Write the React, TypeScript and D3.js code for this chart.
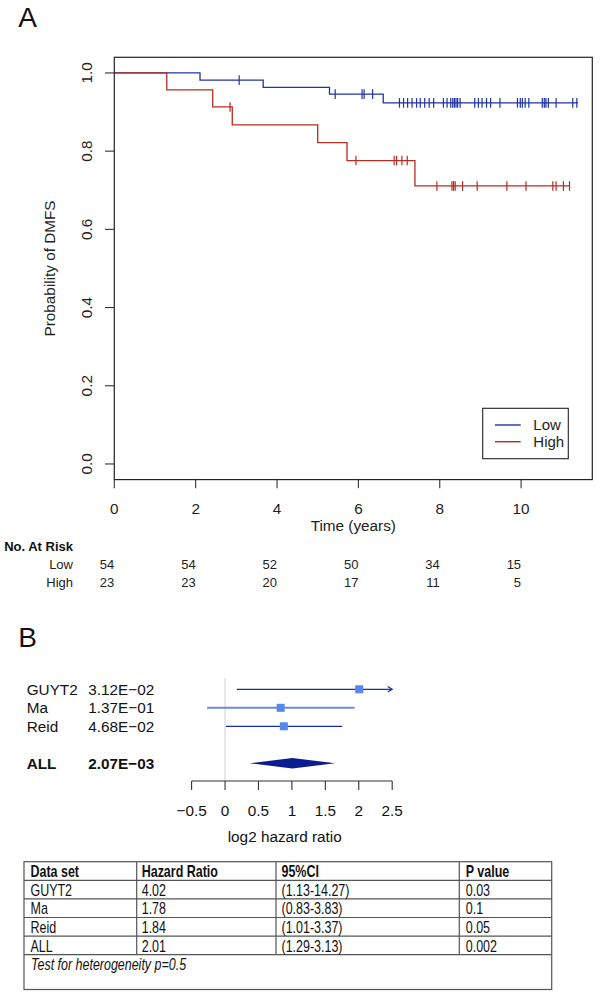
import React from 'react';
import * as d3 from 'd3';

// ---------- Panel A data ----------
const timeTicks = [0, 2, 4, 6, 8, 10];
const survTicks = [0, 0.2, 0.4, 0.6, 0.8, 1.0];
const groupNames = ['Low', 'High'];

const lowStepTimes = [0, 2.107, 3.66, 5.29, 6.61];
const lowStepSurv = [1, 0.9815, 0.963, 0.9457, 0.9235];
const lowEndTime = 11.4;
const lowCensorTimes = [
  3.07, 5.43, 6.09, 6.14, 6.35,
  7.01, 7.11, 7.21, 7.32, 7.43, 7.52, 7.63, 7.74, 7.85,
  8.09, 8.18, 8.27, 8.32, 8.36, 8.40, 8.44, 8.50,
  8.86, 8.95, 9.04, 9.15, 9.25, 9.48,
  9.91, 9.98, 10.03, 10.10, 10.19,
  10.52, 10.57, 10.61, 10.67, 10.86,
  11.27, 11.37,
];

const highStepTimes = [0, 1.29, 2.42, 2.9, 5.0, 5.72, 7.39];
const highStepSurv = [1, 0.9565, 0.913, 0.8674, 0.8217, 0.776, 0.711];
const highEndTime = 11.19;
const highCensorTimes = [
  2.845, 5.94, 6.88, 6.94, 7.07, 7.2,
  7.93, 8.3, 8.34, 8.38, 8.56, 8.92, 9.65, 10.12, 10.78, 10.86, 11.04, 11.19,
];

const riskLow = [54, 54, 52, 50, 34, 15];
const riskHigh = [23, 23, 20, 17, 11, 5];

// ---------- Panel B data ----------
const forestStudies = ['GUYT2', 'Ma', 'Reid'];
const forestPValues = ['3.12E\u221202', '1.37E\u221201', '4.68E\u221202'];
const forestHR = [4.02, 1.78, 1.84];
const forestLower = [1.13, 0.83, 1.01];
const forestUpper = [14.27, 3.83, 3.37];
const pooledLabel = 'ALL';
const pooledPValue = '2.07E\u221203';
const pooledHR = 2.01;
const pooledLower = 1.29;
const pooledUpper = 3.13;
const forestTicks = [-0.5, 0, 0.5, 1, 1.5, 2, 2.5];
const forestTickLabels = ['\u22120.5', '0', '0.5', '1', '1.5', '2', '2.5'];

const tableHeader = ['Data set', 'Hazard Ratio', '95%CI', 'P value'];
const tableDatasets = ['GUYT2', 'Ma', 'Reid', 'ALL'];
const tableHR = ['4.02', '1.78', '1.84', '2.01'];
const tableCI = ['(1.13-14.27)', '(0.83-3.83)', '(1.01-3.37)', '(1.29-3.13)'];
const tablePValues = ['0.03', '0.1', '0.05', '0.002'];
const heterogeneityNote = 'Test for heterogeneity p=0.5';

// ---------- styling ----------
const FONT = "'Liberation Sans', Arial, Helvetica, sans-serif";
const BLUE = '#1f33a3';
const RED = '#b52c20';

export default function App() {
  // KM scales
  const x = d3.scaleLinear().domain([0, 11.75]).range([114.3, 592.3]);
  const y = d3.scaleLinear().domain([-0.04, 1.04]).range([479.6, 57.3]);
  const plotL = x(0), plotR = x(11.75), plotT = y(1.04), plotB = y(-0.04);

  const stepLine = d3
    .line<[number, number]>()
    .x((d) => x(d[0]))
    .y((d) => y(d[1]))
    .curve(d3.curveStepAfter);

  const survAt = (times: number[], surv: number[], t: number) => {
    let s = surv[0];
    for (let i = 0; i < times.length; i++) if (times[i] <= t) s = surv[i];
    return s;
  };

  const curves = [
    { name: groupNames[0], color: BLUE, times: lowStepTimes, surv: lowStepSurv, end: lowEndTime, cens: lowCensorTimes },
    { name: groupNames[1], color: RED, times: highStepTimes, surv: highStepSurv, end: highEndTime, cens: highCensorTimes },
  ];

  // forest scales
  const fx = d3.scaleLinear().domain([-0.5, 2.5]).range([191.6, 392.2]);
  const fy = d3.scaleLinear().domain([0, 1]).range([689.3, 707.8]);
  const fAxisY = 781;

  // table geometry
  const colX = [24, 136.7, 276, 459.3, 551.7];
  const rowY = d3.range(6).map((i) => 861.7 + i * 18.6);
  const tableBottom = 989.5;
  const textPad = [6.5, 5, 5.5, 6.5];

  const condensed = (tx: number, ty: number) => `translate(${tx},${ty}) scale(0.78,1)`;

  const tableRows = tableDatasets.map((d, i) => [d, tableHR[i], tableCI[i], tablePValues[i]]);

  return (
    <div style={{ position: 'absolute', left: 0, top: 0 }}>
      <svg width={600} height={994} style={{ display: 'block', background: '#fff' }} fontFamily={FONT}>
        <rect x={0} y={0} width={600} height={994} fill="#fff" />
        {/* Panel label A */}
        <text x={27.5} y={27} fontSize={28} textAnchor="middle" fill="#111">A</text>

        {/* KM curves */}
        {curves.map((c) => {
          const pts: [number, number][] = c.times.map((t, i) => [t, c.surv[i]] as [number, number]);
          pts.push([c.end, c.surv[c.surv.length - 1]]);
          return (
            <g key={c.name}>
              <path d={stepLine(pts) || ''} fill="none" stroke={c.color} strokeWidth={1.3} />
              {c.cens.map((t, i) => {
                const s = survAt(c.times, c.surv, t);
                return (
                  <line key={i} x1={x(t)} x2={x(t)} y1={y(s) - 4.8} y2={y(s) + 4.8} stroke={c.color} strokeWidth={1.2} />
                );
              })}
            </g>
          );
        })}

        {/* box */}
        <rect x={plotL} y={plotT} width={plotR - plotL} height={plotB - plotT} fill="none" stroke="#222" strokeWidth={1.2} />

        {/* y axis */}
        {survTicks.map((v) => (
          <g key={v}>
            <line x1={plotL - 9.3} x2={plotL} y1={y(v)} y2={y(v)} stroke="#333" strokeWidth={1.1} />
            <text
              transform={`translate(${91.5},${y(v)}) rotate(-90)`}
              fontSize={15.3}
              textAnchor="middle"
              fill="#222"
            >
              {v.toFixed(1)}
            </text>
          </g>
        ))}
        <text transform={`translate(${55},${(plotT + plotB) / 2}) rotate(-90)`} fontSize={15.3} textAnchor="middle" fill="#222">
          Probability of DMFS
        </text>

        {/* x axis */}
        {timeTicks.map((t) => (
          <g key={t}>
            <line x1={x(t)} x2={x(t)} y1={plotB} y2={plotB + 8.6} stroke="#333" strokeWidth={1.1} />
            <text x={x(t)} y={513.5} fontSize={15.3} textAnchor="middle" fill="#222">{t}</text>
          </g>
        ))}
        <text x={(plotL + plotR) / 2} y={531} fontSize={15.3} textAnchor="middle" fill="#222">Time (years)</text>

        {/* legend */}
        <rect x={482.7} y={408.3} width={85.6} height={50.4} fill="#fff" stroke="#222" strokeWidth={1.1} />
        {curves.map((c, i) => (
          <g key={c.name}>
            <line x1={495} x2={520.7} y1={425 + i * 16.7} y2={425 + i * 16.7} stroke={c.color} strokeWidth={1.4} />
            <text x={533.3} y={430.4 + i * 16.7} fontSize={15} fill="#222">{c.name}</text>
          </g>
        ))}

        {/* risk table */}
        <text x={73} y={550.7} fontSize={13} fontWeight="bold" textAnchor="end" fill="#111">No. At Risk</text>
        <text x={73} y={569} fontSize={13} textAnchor="end" fill="#222">{groupNames[0]}</text>
        <text x={73} y={587.2} fontSize={13} textAnchor="end" fill="#222">{groupNames[1]}</text>
        {timeTicks.map((t, i) => (
          <g key={t}>
            <text x={x(t)} y={569} fontSize={13} textAnchor="end" fill="#222">{riskLow[i]}</text>
            <text x={x(t)} y={587.2} fontSize={13} textAnchor="end" fill="#222">{riskHigh[i]}</text>
          </g>
        ))}

        {/* Panel label B */}
        <text x={27.5} y={646.5} fontSize={28} textAnchor="middle" fill="#111">B</text>

        {/* forest plot */}
        <line x1={fx(0)} x2={fx(0)} y1={678.3} y2={fAxisY} stroke="#d8d8d8" strokeWidth={1.2} />
        {forestStudies.map((s, i) => {
          const cy = fy(i);
          const lo = Math.log2(forestLower[i]);
          const hiRaw = Math.log2(forestUpper[i]);
          const clipped = hiRaw > 2.5;
          const hi = Math.min(hiRaw, 2.5);
          const est = Math.log2(forestHR[i]);
          const isMa = s === 'Ma';
          return (
            <g key={s}>
              <text x={26.7} y={cy + 5.5} fontSize={15.3} fill="#111">{s}</text>
              <text x={88.3} y={cy + 5.5} fontSize={15.3} fill="#111">{forestPValues[i]}</text>
              <line
                x1={fx(lo)}
                x2={fx(hi)}
                y1={cy}
                y2={cy}
                stroke={isMa ? '#6f88dc' : '#1a2ea0'}
                strokeWidth={isMa ? 2 : 1.3}
              />
              {clipped && (
                <polyline
                  points={`${fx(hi) - 4.5},${cy - 2.8} ${fx(hi)},${cy} ${fx(hi) - 4.5},${cy + 2.8}`}
                  fill="none"
                  stroke="#1a2ea0"
                  strokeWidth={1.2}
                />
              )}
              <rect x={fx(est) - 4} y={cy - 4} width={8} height={8} fill="#5687ec" />
            </g>
          );
        })}
        {(() => {
          const cy = fy(4);
          const l = fx(Math.log2(pooledLower));
          const m = fx(Math.log2(pooledHR));
          const r = fx(Math.log2(pooledUpper));
          return (
            <g>
              <text x={26.7} y={cy + 5.5} fontSize={15.3} fontWeight="bold" fill="#111">{pooledLabel}</text>
              <text x={88.3} y={cy + 5.5} fontSize={15.3} fontWeight="bold" fill="#111">{pooledPValue}</text>
              <polygon points={`${l},${cy} ${m},${cy - 5.3} ${r},${cy} ${m},${cy + 5.3}`} fill="#0a1c8f" />
            </g>
          );
        })()}
        <line x1={fx(-0.5)} x2={fx(2.5)} y1={fAxisY} y2={fAxisY} stroke="#333" strokeWidth={1.1} />
        {forestTicks.map((t, i) => (
          <g key={t}>
            <line x1={fx(t)} x2={fx(t)} y1={fAxisY} y2={fAxisY + 9} stroke="#333" strokeWidth={1.1} />
            <text x={fx(t)} y={816.2} fontSize={15.3} textAnchor="middle" fill="#111">{forestTickLabels[i]}</text>
          </g>
        ))}
        <text x={284.7} y={841.5} fontSize={15.3} textAnchor="middle" fill="#111">log2 hazard ratio</text>

        {/* table */}
        <g stroke="#555" strokeWidth={1.2}>
          <rect x={colX[0]} y={rowY[0]} width={colX[4] - colX[0]} height={tableBottom - rowY[0]} fill="none" />
          {rowY.slice(1).map((ry, i) => (
            <line key={i} x1={colX[0]} x2={colX[4]} y1={ry} y2={ry} />
          ))}
          {colX.slice(1, 4).map((cx, i) => (
            <line key={i} x1={cx} x2={cx} y1={rowY[0]} y2={rowY[5]} />
          ))}
        </g>
        {tableHeader.map((h, j) => (
          <text key={h} transform={condensed(colX[j] + textPad[j], rowY[0] + 15.4)} fontSize={16} fontWeight="bold" fill="#111">
            {h}
          </text>
        ))}
        {tableRows.map((row, i) =>
          row.map((cell, j) => (
            <text key={`${i}-${j}`} transform={condensed(colX[j] + textPad[j], rowY[i + 1] + 15.4)} fontSize={16} fill="#111">
              {cell}
            </text>
          ))
        )}
        <text transform={condensed(colX[0] + 7, rowY[5] + 15)} fontSize={16} fontStyle="italic" fill="#111">
          {heterogeneityNote}
        </text>
      </svg>
    </div>
  );
}
